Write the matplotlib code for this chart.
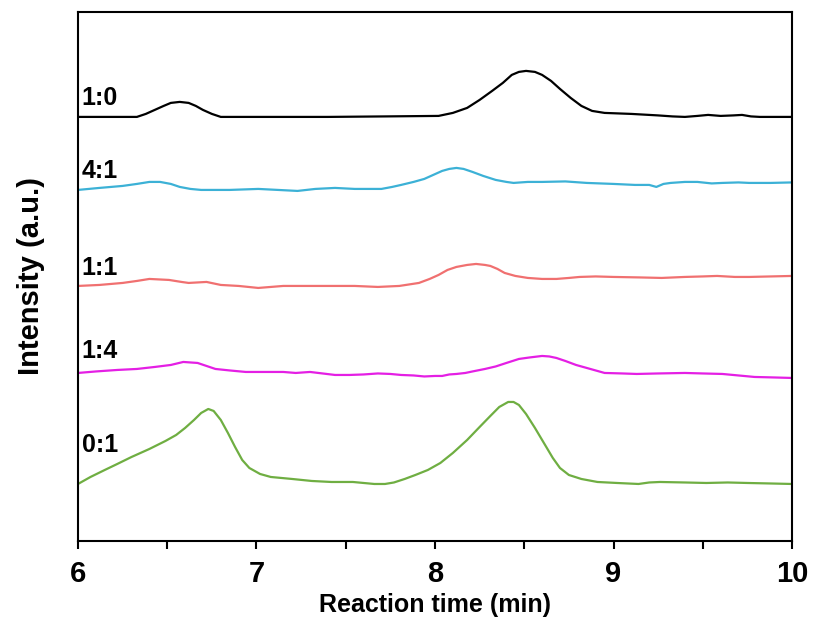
import matplotlib
matplotlib.use("Agg")
import matplotlib.pyplot as plt
import numpy as np

plt.rcParams["font.family"] = ["Liberation Sans", "DejaVu Sans"]
plt.rcParams["font.weight"] = "bold"

# retention time (min) and stacked detector signal (a.u.) for each ratio
t_10 = [6.00, 6.33, 6.38, 6.43, 6.48, 6.52, 6.57, 6.62, 6.66, 6.70, 6.75, 6.80, 7.40,
        7.72, 8.02, 8.10, 8.18, 8.25, 8.32, 8.38, 8.43, 8.47, 8.51, 8.56, 8.60, 8.65,
        8.70, 8.76, 8.82, 8.88, 8.95, 9.10, 9.25, 9.33, 9.40, 9.47, 9.53, 9.60, 9.67,
        9.72, 9.77, 9.82, 10.00]
i_10 = [424, 424, 427, 431, 435, 438, 439, 438, 435, 431, 427, 424, 424,
        424.5, 425, 428, 433, 441, 450, 458, 466, 469, 470, 469, 466, 460,
        452, 443, 435, 430, 428, 427, 425.5, 424.5, 424, 425, 426, 425, 425.5,
        426, 424.5, 424, 424]

t_41 = [6.00, 6.12, 6.25, 6.33, 6.40, 6.46, 6.52, 6.57, 6.63, 6.69, 6.85, 7.01, 7.12,
        7.23, 7.33, 7.44, 7.55, 7.70, 7.76, 7.81, 7.88, 7.94, 7.99, 8.04, 8.08, 8.12,
        8.16, 8.21, 8.27, 8.34, 8.40, 8.44, 8.52, 8.60, 8.73, 8.85, 9.00, 9.12, 9.20,
        9.24, 9.28, 9.32, 9.40, 9.47, 9.55, 9.61, 9.70, 9.76, 9.88, 10.00]
i_41 = [351, 353, 355, 357, 359, 359, 357, 354, 352, 351, 351, 352, 351,
        350, 352, 353, 352, 352, 354, 356, 359, 362, 366, 370, 372, 373,
        372, 369, 365, 361, 359, 358, 359, 359, 359.5, 358, 357, 356, 356,
        354, 357, 358, 359, 359, 357.5, 358, 358.5, 358, 358, 358.5]

t_11 = [6.00, 6.12, 6.25, 6.33, 6.40, 6.51, 6.58, 6.62, 6.72, 6.80, 6.90, 7.01, 7.08,
        7.15, 7.30, 7.41, 7.55, 7.68, 7.80, 7.91, 7.97, 8.02, 8.07, 8.12, 8.18, 8.23,
        8.28, 8.31, 8.35, 8.39, 8.45, 8.52, 8.60, 8.68, 8.75, 8.81, 8.90, 9.00, 9.15,
        9.27, 9.40, 9.50, 9.58, 9.68, 9.76, 9.88, 10.00]
i_11 = [255, 256, 258, 260, 262, 261, 259, 258, 259, 256, 255, 253, 254,
        255, 255, 255, 255, 254, 255, 258, 262, 266, 271, 274, 276, 277,
        276, 275, 272, 268, 265, 263, 262, 262, 263, 264, 264.5, 264, 263.5,
        263, 264, 264.5, 265, 264, 264, 264.5, 265]

t_14 = [6.00, 6.10, 6.22, 6.33, 6.43, 6.52, 6.59, 6.63, 6.67, 6.72, 6.77, 6.85, 6.94,
        7.05, 7.15, 7.22, 7.30, 7.37, 7.44, 7.52, 7.60, 7.68, 7.75, 7.81, 7.88, 7.94,
        8.00, 8.04, 8.08, 8.12, 8.17, 8.21, 8.28, 8.34, 8.40, 8.47, 8.53, 8.60, 8.64,
        8.68, 8.73, 8.79, 8.87, 8.95, 9.05, 9.13, 9.25, 9.40, 9.50, 9.61, 9.70, 9.79,
        9.90, 10.00]
i_14 = [168, 169.5, 171, 172, 174, 176, 179, 178.5, 178, 175, 172, 170.5, 169,
        169, 169, 168, 169, 167.5, 166, 166, 166.5, 167.5, 167, 166, 165.5, 164.5,
        165, 165, 166.5, 167, 168, 169.5, 172, 174.5, 178, 182, 183.5, 185, 184.5,
        183, 180, 176, 172, 168, 167.5, 167, 167.5, 168, 167.5, 167, 165.5, 164,
        163.5, 163]

t_01 = [6.00, 6.07, 6.15, 6.22, 6.30, 6.40, 6.49, 6.55, 6.60, 6.65, 6.69, 6.73, 6.76,
        6.80, 6.84, 6.88, 6.92, 6.96, 7.02, 7.08, 7.20, 7.31, 7.42, 7.54, 7.60, 7.66,
        7.72, 7.77, 7.83, 7.89, 7.96, 8.03, 8.10, 8.18, 8.25, 8.31, 8.36, 8.41, 8.44,
        8.47, 8.51, 8.56, 8.61, 8.66, 8.70, 8.75, 8.82, 8.91, 9.02, 9.14, 9.20, 9.26,
        9.40, 9.52, 9.64, 9.75, 9.88, 10.00]
i_01 = [57, 64, 71, 77, 84, 92, 100, 106, 113, 121, 128, 132, 130,
        121, 108, 94, 81, 73, 67, 64, 62, 60, 59, 59, 58, 57,
        57, 58.5, 62, 66, 71, 78, 88, 101, 114, 125, 134, 139, 139,
        136, 127, 113, 98, 83, 73, 66, 62, 59, 58, 57, 58.5, 59,
        58.5, 58, 58.5, 58, 57.5, 57]

series = [
    ("1:0", t_10, i_10, "black", 436),
    ("4:1", t_41, i_41, "#3cb1d6", 363),
    ("1:1", t_11, i_11, "#f07070", 266),
    ("1:4", t_14, i_14, "#e41fe4", 183),
    ("0:1", t_01, i_01, "#6fae42", 89),
]

fig = plt.figure(figsize=(8.14, 6.26), dpi=100)
ax = fig.add_axes([0.0958, 0.1358, 0.8772, 0.8452])

for name, t, y, c, ylab in series:
    ax.plot(t, y, color=c, lw=1.6, solid_joinstyle="round")
    ax.text(6.02, ylab, name, fontsize=18, fontweight="bold", va="baseline", ha="left")

ax.set_xlim(6, 10)
ax.set_ylim(0, 529)
ax.set_xticks([6, 7, 8, 9, 10])
ax.set_xticks(np.arange(6.5, 10, 1), minor=True)
ax.set_yticks([])
ax.tick_params(axis="x", which="both", direction="out", width=1.5, length=6,
               labelsize=21, pad=8)
for lbl in ax.get_xticklabels():
    lbl.set_fontweight("bold")
for s in ax.spines.values():
    s.set_linewidth(1.5)

ax.set_xlabel("Reaction time (min)", fontsize=18, fontweight="bold", labelpad=3)
ax.set_ylabel("Intensity (a.u.)", fontsize=21, fontweight="bold", labelpad=24)

fig.savefig("out.png", dpi=100)
